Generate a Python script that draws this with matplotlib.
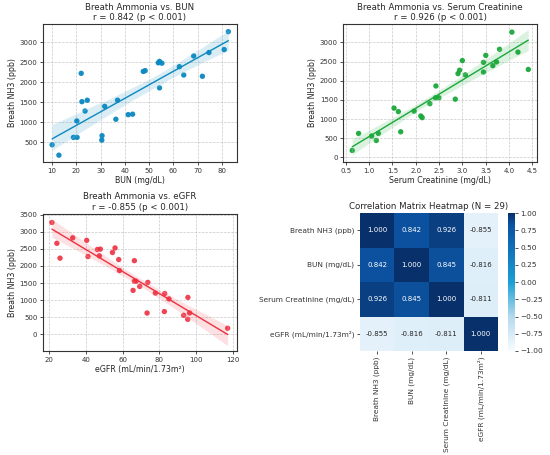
import numpy as np
import matplotlib
matplotlib.use("Agg")
import matplotlib.pyplot as plt
import seaborn as sns
from matplotlib.colors import LinearSegmentedColormap

# ---- data ----
nh3 = [180, 440, 557, 624, 626, 667, 1036, 1079, 1193, 1205, 1285, 1400, 1518, 1554, 1554,
       1863, 2153, 2185, 2226, 2274, 2294, 2392, 2480, 2490, 2525, 2661, 2746, 2820, 3268]
bun = [12.8, 10.0, 30.5, 18.8, 20.3, 30.6, 20.2, 36.3, 41.4, 43.2, 23.6, 31.7, 22.3, 24.5, 37.0,
       54.3, 72.0, 64.3, 22.0, 47.6, 48.4, 62.5, 55.3, 53.8, 54.3, 68.4, 74.7, 81.0, 82.7]
creat = [0.636, 1.153, 1.053, 0.773, 1.197, 1.677, 2.137, 2.108, 1.627, 1.965, 1.534, 2.302, 2.848,
         2.424, 2.496, 2.432, 3.064, 2.906, 3.452, 2.94, 4.414, 3.653, 3.452, 3.732, 2.999, 3.502,
         4.192, 3.797, 4.062]
egfr = [117.1, 95.4, 93.2, 73.3, 96.4, 82.7, 85.2, 95.5, 82.9, 77.8, 65.7, 69.3, 73.7, 66.4, 67.3,
        58.3, 66.4, 57.9, 26.0, 41.2, 47.4, 54.5, 46.3, 47.9, 55.9, 24.3, 40.5, 32.9, 21.6]

corr_labels = ["Breath NH3 (ppb)", "BUN (mg/dL)", "Serum Creatinine (mg/dL)", "eGFR (mL/min/1.73m²)"]
corr_values = [[1.000, 0.842, 0.926, -0.855],
               [0.842, 1.000, 0.845, -0.816],
               [0.926, 0.845, 1.000, -0.811],
               [-0.855, -0.816, -0.811, 1.000]]

titles = ["Breath Ammonia vs. BUN\nr = 0.842 (p < 0.001)",
          "Breath Ammonia vs. Serum Creatinine\nr = 0.926 (p < 0.001)",
          "Breath Ammonia vs. eGFR\nr = -0.855 (p < 0.001)"]

sns.set_style("ticks")
plt.rcParams['font.family'] = ['DejaVu Sans']

fig = plt.figure(figsize=(5.5, 4.55), dpi=100)

TF, LF, KF = 6.2, 5.7, 5.0
spine_c = '#333333'

def style(ax):
    ax.grid(True, linestyle='--', linewidth=0.5, color='#bbbbbb', alpha=0.8)
    ax.tick_params(labelsize=KF, length=2.5, width=0.6, pad=1.5, colors='#333333')
    for s in ax.spines.values():
        s.set_color(spine_c)
        s.set_linewidth(0.8)

ax1 = fig.add_axes([0.078, 0.644, 0.353, 0.303])
sns.regplot(x=bun, y=nh3, ax=ax1, color='#0a88c0', seed=0,
            scatter_kws=dict(s=15, alpha=0.95, edgecolor='none'), line_kws=dict(lw=1.0))
ax1.set_xlim(6.2, 86.3); ax1.set_ylim(10, 3457)
ax1.set_xticks([10, 20, 30, 40, 50, 60, 70, 80])
ax1.set_yticks([500, 1000, 1500, 2000, 2500, 3000])
ax1.set_xlabel("BUN (mg/dL)", fontsize=LF, labelpad=1.5)
ax1.set_ylabel("Breath NH3 (ppb)", fontsize=LF, labelpad=2)
ax1.set_title(titles[0], fontsize=TF, pad=3, linespacing=1.2)
style(ax1)

ax2 = fig.add_axes([0.624, 0.644, 0.353, 0.303])
sns.regplot(x=creat, y=nh3, ax=ax2, color='#1aa83a', seed=0,
            scatter_kws=dict(s=15, alpha=0.95, edgecolor='none'), line_kws=dict(lw=1.0))
ax2.set_xlim(0.443, 4.608); ax2.set_ylim(-121, 3477)
ax2.set_xticks([0.5, 1.0, 1.5, 2.0, 2.5, 3.0, 3.5, 4.0, 4.5])
ax2.set_yticks([0, 500, 1000, 1500, 2000, 2500, 3000])
ax2.set_xlabel("Serum Creatinine (mg/dL)", fontsize=LF, labelpad=1.5)
ax2.set_ylabel("Breath NH3 (ppb)", fontsize=LF, labelpad=2)
ax2.set_title(titles[1], fontsize=TF, pad=3, linespacing=1.2)
style(ax2)

ax3 = fig.add_axes([0.078, 0.2286, 0.353, 0.301])
sns.regplot(x=egfr, y=nh3, ax=ax3, color='#ee3040', seed=0,
            scatter_kws=dict(s=15, alpha=0.9, edgecolor='none'), line_kws=dict(lw=1.0))
ax3.set_xlim(16.7, 122.2); ax3.set_ylim(-485, 3515)
ax3.set_xticks([20, 40, 60, 80, 100, 120])
ax3.set_yticks([0, 500, 1000, 1500, 2000, 2500, 3000, 3500])
ax3.set_xlabel("eGFR (mL/min/1.73m²)", fontsize=LF, labelpad=1.5)
ax3.set_ylabel("Breath NH3 (ppb)", fontsize=LF, labelpad=2)
ax3.set_title(titles[2], fontsize=TF, pad=3, linespacing=1.2)
style(ax3)

cmap = LinearSegmentedColormap.from_list(
    "cb", [(0, '#f7fbff'), (0.25, '#b3d9ee'), (0.5, '#1a9fd4'), (0.75, '#1070b8'),
           (0.92, '#0c52a0'), (1, '#08306b')])

ax4 = fig.add_axes([0.6545, 0.2286, 0.251, 0.303])
cax = fig.add_axes([0.9236, 0.2286, 0.0127, 0.303])
sns.heatmap(np.array(corr_values), ax=ax4, cbar_ax=cax, cmap=cmap, vmin=-1, vmax=1,
            annot=True, fmt=".3f", annot_kws=dict(fontsize=5.0),
            xticklabels=corr_labels, yticklabels=corr_labels, square=False)
ax4.set_title("Correlation Matrix Heatmap (N = 29)", fontsize=TF, pad=3)
ax4.tick_params(labelsize=KF + 0.3, length=2.5, width=0.6, pad=1.5, colors='#333333')
plt.setp(ax4.get_xticklabels(), rotation=90)
plt.setp(ax4.get_yticklabels(), rotation=0)
cax.tick_params(labelsize=KF + 0.3, length=2.5, width=0.6, pad=1.5, colors='#333333')
cax.set_yticks([-1, -0.75, -0.5, -0.25, 0, 0.25, 0.5, 0.75, 1.0])
for s in cax.spines.values():
    s.set_visible(False)

fig.savefig("out.png", dpi=100)
